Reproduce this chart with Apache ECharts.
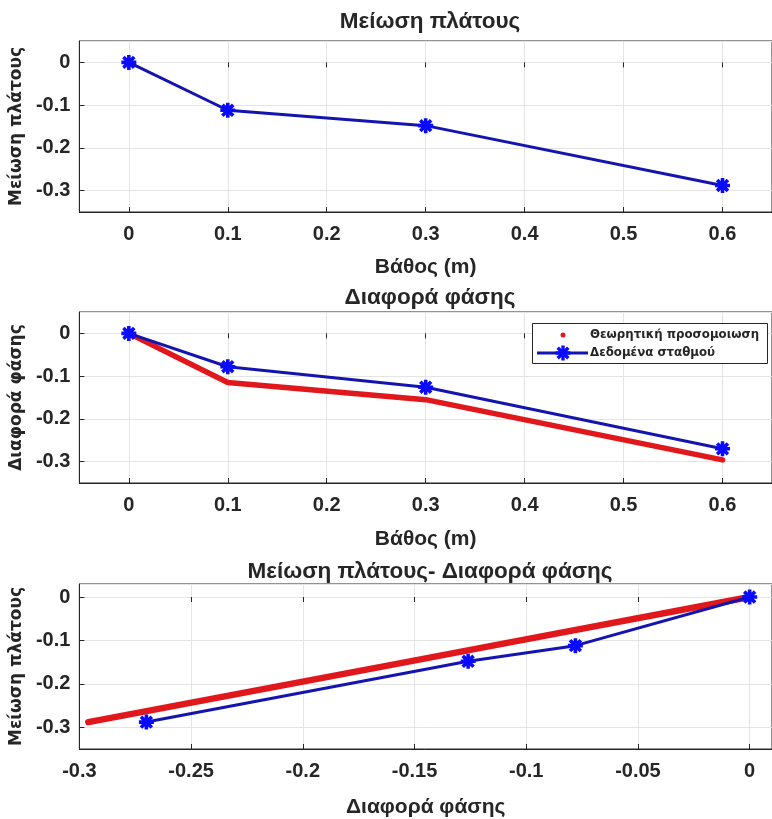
<!DOCTYPE html>
<html>
<head>
<meta charset="utf-8">
<script src="https://cdn.jsdelivr.net/npm/echarts@6/dist/echarts.min.js"></script>
<style>html,body{margin:0;padding:0;background:#fff;}#c{width:772px;height:819px;}</style>
</head>
<body>
<div id="c"></div>
<script>
// ---- data ----
var depth = [0, 0.1, 0.3, 0.6];
var ampReduction = [0, -0.112, -0.148, -0.288];      // Μείωση πλάτους (station data)
var phaseData = [0, -0.078, -0.126, -0.270];         // Διαφορά φάσης (station data)
var phaseTheory = [0, -0.115, -0.155, -0.296];       // Θεωρητική προσομοιωση (phase)
var ampTheory = [0, -0.112, -0.151, -0.288];         // Θεωρητική (amplitude, plot 3)
var titles = ['Μείωση πλάτους', 'Διαφορά φάσης', 'Μείωση πλάτους- Διαφορά φάσης'];
var xNames = ['Βάθος (m)', 'Βάθος (m)', 'Διαφορά φάσης'];
var yNames = ['Μείωση πλάτους', 'Διαφορά φάσης', 'Μείωση πλάτους'];
var legendNames = ['Θεωρητική προσομοιωση', 'Δεδομένα σταθμού'];

function pairs(xs, ys) { return xs.map(function (x, i) { return [x, ys[i]]; }); }

var BLUE_LINE = '#1414b0';
var BLUE_MARK = '#0a0aff';
var RED = '#e0181c';
var AX = '#262626';
var GRIDC = '#e4e4e4';
var NUMFONT = '"Liberation Sans Narrow", "Liberation Sans", Arial, sans-serif';
var YNAMEFONT = '"DejaVu Sans", sans-serif';
var STAR = 'path://M0,-10L0,10M-10,0L10,0M-7.2,-7.2L7.2,7.2M7.2,-7.2L-7.2,7.2';

var grids = [
  {left: 79, top: 41, width: 703, height: 171},
  {left: 79, top: 312, width: 703, height: 171},
  {left: 79, top: 584, width: 704, height: 172}
];
var xr = [[-0.05, 0.65, 7, 12, 45], [-0.05, 0.65, 7, 12, 46], [-0.3, 0.01, 6, 12, 48]];
var yr = [[-0.35, 0.05], [-0.35, 0.05], [-0.35, 0.03]];

var xAxes = [], yAxes = [];
grids.forEach(function (g, i) {
  g.show = true; g.borderColor = AX; g.borderWidth = 1; g.backgroundColor = '#fff';
  xAxes.push({
    type: 'value', gridIndex: i, min: xr[i][0], max: xr[i][1], splitNumber: xr[i][2],
    position: 'bottom',
    name: xNames[i], nameLocation: 'middle', nameGap: xr[i][4],
    nameTextStyle: {fontFamily: NUMFONT, fontWeight: 'bold', fontSize: 21, color: AX},
    axisLine: {show: true, onZero: false, lineStyle: {color: AX, width: 1}},
    axisTick: {show: true, inside: true, length: 5, lineStyle: {color: AX}},
    axisLabel: {show: true, margin: xr[i][3], showMinLabel: i === 2, showMaxLabel: false,
      fontFamily: NUMFONT, fontWeight: 'bold', fontSize: 20, color: AX},
    splitLine: {show: true, lineStyle: {color: GRIDC, width: 1}}
  });
  xAxes.push({
    type: 'value', gridIndex: i, min: xr[i][0], max: xr[i][1], splitNumber: xr[i][2],
    position: 'top',
    axisLine: {show: false},
    axisTick: {show: true, inside: true, length: 5, lineStyle: {color: AX}},
    axisLabel: {show: false}, splitLine: {show: false}
  });
  yAxes.push({
    type: 'value', gridIndex: i, min: yr[i][0], max: yr[i][1], splitNumber: 4,
    position: 'left',
    name: yNames[i], nameLocation: 'middle', nameGap: 53, nameRotate: 90,
    nameTextStyle: {fontFamily: YNAMEFONT, fontWeight: 'bold', fontSize: 17, color: AX},
    axisLine: {show: true, onZero: false, lineStyle: {color: AX, width: 1}},
    axisTick: {show: true, inside: true, length: 5, lineStyle: {color: AX}},
    axisLabel: {show: true, margin: 9, showMinLabel: false, showMaxLabel: false,
      fontFamily: NUMFONT, fontWeight: 'bold', fontSize: 20, color: AX},
    splitLine: {show: true, lineStyle: {color: GRIDC, width: 1}}
  });
});

function blueSeries(xi, yi, data, w) {
  return {
    type: 'line', xAxisIndex: xi, yAxisIndex: yi, data: data, name: legendNames[1],
    symbol: STAR, symbolSize: 15, showSymbol: true, z: 5,
    lineStyle: {color: BLUE_LINE, width: w},
    itemStyle: {color: BLUE_MARK, borderColor: BLUE_MARK, borderWidth: 3.6},
    emphasis: {disabled: true}, animation: false
  };
}
function redSeries(xi, yi, data, w) {
  return {
    type: 'line', xAxisIndex: xi, yAxisIndex: yi, data: data, name: legendNames[0],
    showSymbol: false, symbol: 'none', z: 3,
    lineStyle: {color: RED, width: w, cap: 'round', join: 'round'},
    itemStyle: {color: RED},
    emphasis: {disabled: true}, animation: false
  };
}

var series = [
  blueSeries(0, 0, pairs(depth, ampReduction), 3),
  redSeries(2, 1, pairs(depth, phaseTheory), 5.5),
  blueSeries(2, 1, pairs(depth, phaseData), 3),
  redSeries(4, 2, pairs(phaseTheory, ampTheory), 6.5),
  blueSeries(4, 2, pairs(phaseData, ampReduction), 3)
];

var TITLEFONT = NUMFONT;
var graphics = [];
var titleY = [22, 298, 572];
titles.forEach(function (t, i) {
  graphics.push({type: 'text', x: 430, y: titleY[i], z: 100,
    style: {text: t, fontFamily: TITLEFONT, fontWeight: 'bold', fontSize: 22.5, fill: AX,
      textAlign: 'center', textVerticalAlign: 'middle'}});
});
// legend of the second panel
graphics.push({type: 'rect', z: 100, shape: {x: 532.5, y: 323.5, width: 235, height: 40},
  style: {fill: '#fff', stroke: AX, lineWidth: 1}});
graphics.push({type: 'circle', z: 101, shape: {cx: 563, cy: 335, r: 2.5}, style: {fill: RED}});
graphics.push({type: 'line', z: 101, shape: {x1: 537, y1: 353, x2: 588, y2: 353},
  style: {stroke: BLUE_LINE, lineWidth: 3}});
var starSegs = [[563, 345.5, 563, 360.5], [555.5, 353, 570.5, 353],
  [557.7, 347.7, 568.3, 358.3], [568.3, 347.7, 557.7, 358.3]];
starSegs.forEach(function (s) {
  graphics.push({type: 'line', z: 102, shape: {x1: s[0], y1: s[1], x2: s[2], y2: s[3]},
    style: {stroke: BLUE_MARK, lineWidth: 3.4}});
});
graphics.push({type: 'text', z: 101, x: 590, y: 335,
  style: {text: legendNames[0], fontFamily: YNAMEFONT, fontWeight: 'bold', fontSize: 11.8, fill: AX,
    textVerticalAlign: 'middle'}});
graphics.push({type: 'text', z: 101, x: 590, y: 353,
  style: {text: legendNames[1], fontFamily: YNAMEFONT, fontWeight: 'bold', fontSize: 11.8, fill: AX,
    textVerticalAlign: 'middle'}});

var chart = echarts.init(document.getElementById('c'), null, {renderer: 'canvas'});
chart.setOption({
  backgroundColor: '#ffffff',
  animation: false,
  grid: grids,
  xAxis: xAxes,
  yAxis: yAxes,
  series: series,
  graphic: graphics
});
</script>
</body>
</html>
